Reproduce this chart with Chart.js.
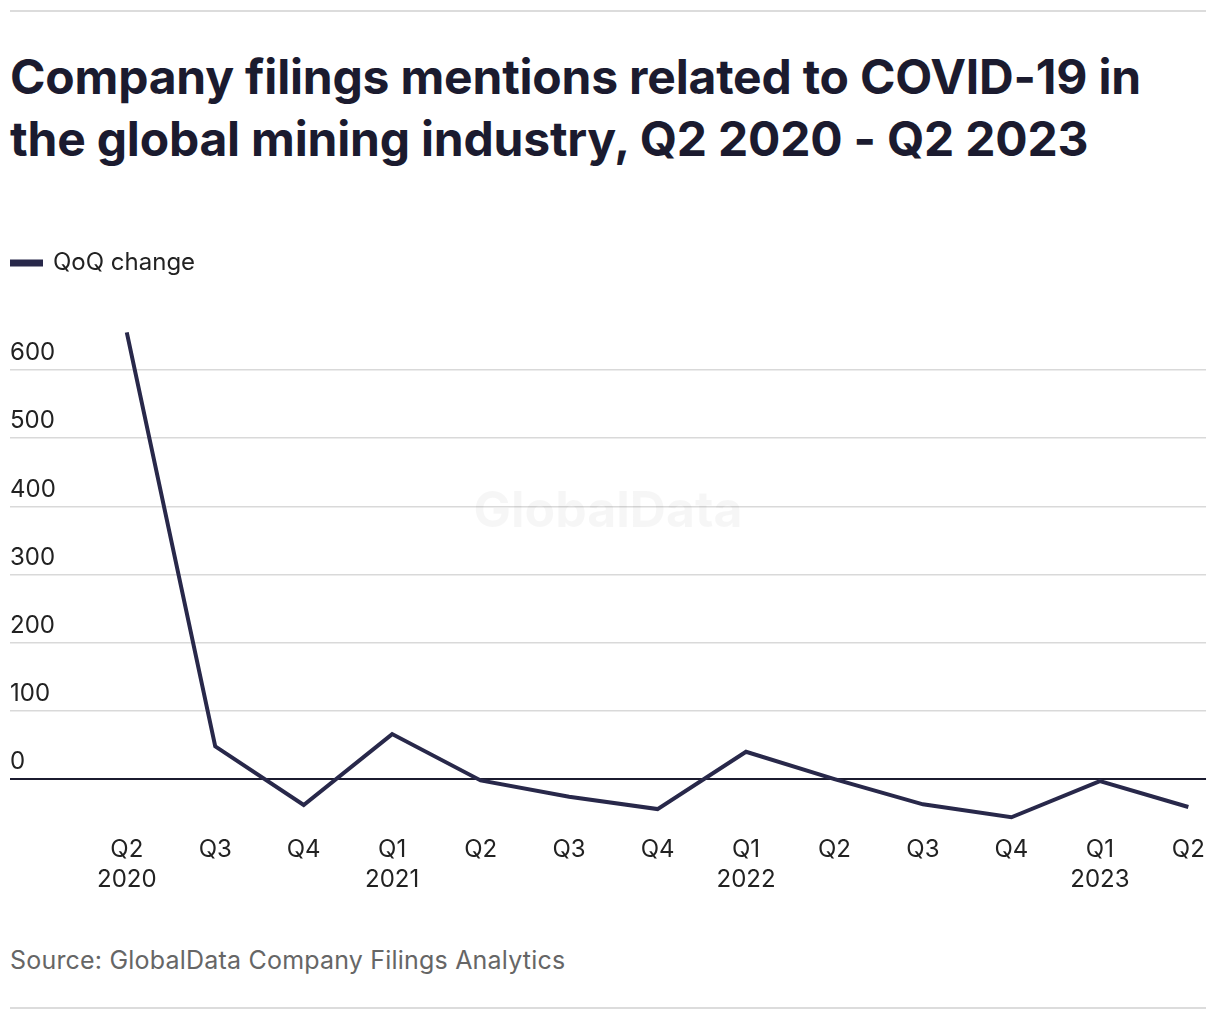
<!DOCTYPE html>
<html>
<head>
<meta charset="utf-8">
<script src="https://cdn.jsdelivr.net/npm/chart.js@4.4.1/dist/chart.umd.min.js"></script>
<style>
    html, body { margin: 0; padding: 0; background: #fff; }
    body { width: 1220px; height: 1020px; position: relative; overflow: hidden; font-family: Inter, "Liberation Sans", Arial, sans-serif; }
    .rule { position: absolute; left: 10px; width: 1196px; height: 2px; background: #dcdcdc; }
    h1 { position: absolute; left: 10px; top: 46px; margin: 0; width: 1210px; font-size: 48px; line-height: 62px; font-weight: 700; color: #1b1b2f; letter-spacing: -0.2px; white-space: nowrap; }
    .source { position: absolute; left: 10px; top: 945px; font-size: 25px; color: #666; letter-spacing: 0.2px; }
    .chart-wrap { position: absolute; left: 0; top: 215px; width: 1220px; height: 695px; }
</style>
</head>
<body>
<div class="rule" style="top:10px"></div>
<h1>Company filings mentions related to COVID-19 in<br>the global mining industry, Q2 2020 - Q2 2023</h1>
<div class="chart-wrap"><canvas id="chart"></canvas></div>
<div class="source">Source: GlobalData Company Filings Analytics</div>
<div class="rule" style="top:1007px"></div>
<script>
const quarters  = ['Q2', 'Q3', 'Q4', 'Q1', 'Q2', 'Q3', 'Q4', 'Q1', 'Q2', 'Q3', 'Q4', 'Q1', 'Q2']
const years     = ['2020', '', '', '2021', '', '', '', '2022', '', '', '', '2023', '']
const qoqChange = [655, 48, -38, 66, -2, -26, -44, 40, 0, -37, -56, -3, -41]
const yTicks    = [0, 100, 200, 300, 400, 500, 600]

const lineColor = '#28284a'
const fontFamily = 'Inter, "Liberation Sans", Arial, sans-serif'

const watermark = {
    id: 'watermark',
    beforeDatasetsDraw(chart) {
        const {ctx, chartArea} = chart
        ctx.save()
        ctx.font = `bold 50px ${fontFamily}`
        ctx.fillStyle = 'rgba(0, 0, 0, 0.035)'
        ctx.textAlign = 'center'
        ctx.textBaseline = 'middle'
        ctx.fillText('GlobalData', (chartArea.left + chartArea.right) / 2, 297)
        ctx.restore()
    }
}

// extra gap between the legend and the plot
const legendGap = {
    id: 'legendGap',
    beforeInit(chart) {
        const fit = chart.legend.fit
        chart.legend.fit = function () {
            fit.call(this)
            this.height += 44
        }
    }
}

const initChart = () => {
    const canvasEl = document.getElementById('chart')
    new Chart(canvasEl.getContext('2d'), {
        type: 'line',
        data: {
            datasets: [{
                label: 'QoQ change',
                data: qoqChange.map((v, i) => ({x: i, y: v})),
                borderColor: lineColor,
                backgroundColor: lineColor,
                borderWidth: 4,
                pointRadius: 0,
                tension: 0,
                clip: false
            }]
        },
        options: {
            responsive: true,
            maintainAspectRatio: false,
            animation: false,
            layout: {
                padding: {left: 10, right: 11, top: 36, bottom: 0}
            },
            plugins: {
                legend: {
                    align: 'start',
                    labels: {
                        boxWidth: 31,
                        boxHeight: 3,
                        padding: 0,
                        color: '#222',
                        font: {size: 24, family: fontFamily}
                    }
                },
                tooltip: {enabled: false}
            },
            scales: {
                x: {
                    type: 'linear',
                    min: -1.32,
                    max: 12.2,
                    afterBuildTicks: scale => {
                        scale.ticks = quarters.map((q, i) => ({value: i}))
                    },
                    grid: {display: false, drawTicks: false},
                    border: {display: false},
                    ticks: {
                        autoSkip: false,
                        maxRotation: 0,
                        padding: 15,
                        color: '#222',
                        font: {size: 24, family: fontFamily, lineHeight: 1.25},
                        callback: value => years[value] ? [quarters[value], years[value]] : quarters[value]
                    }
                },
                y: {
                    min: -60,
                    max: 660,
                    afterBuildTicks: scale => {
                        scale.ticks = yTicks.map(v => ({value: v}))
                    },
                    grid: {
                        drawTicks: false,
                        color: ctx => ctx.tick && ctx.tick.value === 0 ? '#1b1b2f' : '#d9d9d9',
                        lineWidth: ctx => ctx.tick && ctx.tick.value === 0 ? 2 : 1.5
                    },
                    border: {display: false},
                    ticks: {
                        mirror: true,
                        padding: 0,
                        labelOffset: -17,
                        color: '#222',
                        font: {size: 24, family: fontFamily}
                    }
                }
            }
        },
        plugins: [watermark, legendGap]
    })
}

document.addEventListener('DOMContentLoaded', initChart, false)
</script>
</body>
</html>
